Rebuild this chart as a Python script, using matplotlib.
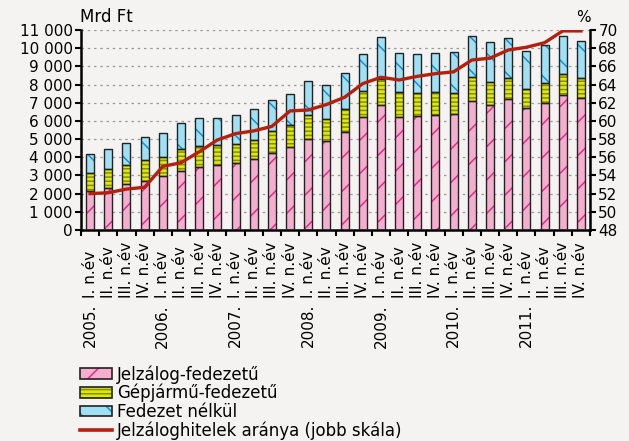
import numpy as np
import matplotlib
matplotlib.use("Agg")
import matplotlib.pyplot as plt
import matplotlib.transforms as mtransforms
from matplotlib.patches import Patch
from matplotlib.lines import Line2D
from matplotlib.legend_handler import HandlerTuple

# negyedéves állományok, Mrd Ft
years = ["2005.", "2006.", "2007.", "2008.", "2009.", "2010.", "2011."]
quarters = ["I. n.év", "II. n.év", "III. n.év", "IV. n.év"]

jelzalog = [2170, 2330, 2530, 2700, 2950, 3230, 3490, 3560, 3690, 3910, 4220, 4590, 4990,
            4910, 5370, 6210, 6870, 6230, 6250, 6310, 6360, 7110, 6860, 7190, 6690, 6970, 7420, 7240]
gepjarmu_top = [3140, 3340, 3600, 3850, 4040, 4440, 4640, 4660, 4750, 4970, 5430, 5760, 6310,
                6120, 6650, 7640, 8280, 7570, 7550, 7570, 7550, 8410, 8120, 8340, 7770, 8070, 8560, 8380]
osszes = [4180, 4480, 4770, 5140, 5360, 5910, 6150, 6170, 6330, 6640, 7160, 7500, 8180,
          7990, 8630, 9680, 10630, 9710, 9680, 9750, 9810, 10690, 10320, 10580, 9860, 10160, 10650, 10390]
# jelzáloghitelek aránya, % (jobb skála)
arany = [52.0, 52.1, 52.5, 52.7, 55.0, 55.4, 56.6, 57.9, 58.6, 58.9, 59.4, 61.1, 61.2,
         61.8, 62.6, 64.1, 64.8, 64.5, 64.9, 65.2, 65.4, 66.7, 66.9, 67.8, 68.1, 68.6, 69.9, 69.9]

gepjarmu = [g - j for g, j in zip(gepjarmu_top, jelzalog)]
fedezetlen = [o - g for o, g in zip(osszes, gepjarmu_top)]

BG = "#f4f3f1"
plt.rcParams["font.family"] = "DejaVu Sans"
plt.rcParams["hatch.linewidth"] = 1.1

fig = plt.figure(figsize=(6.29, 4.41), dpi=100, facecolor=BG)
ax = fig.add_axes([81 / 629, 1 - 230 / 441, 509 / 629, 200 / 441])
ax.set_facecolor(BG)
ax2 = ax.twinx()

x = np.arange(len(jelzalog))
w = 0.44

series = [
    (jelzalog, np.zeros(len(x)), "#f6aecf", "#e42c8a", "/", "Jelzálog-fedezetű"),
    (gepjarmu, np.array(jelzalog), "#e2e800", "#7f9012", "----", "Gépjármű-fedezetű"),
    (fedezetlen, np.array(gepjarmu_top), "#9fe0f4", "#1492cf", "\\", "Fedezet nélkül"),
]

handles = []
labels = []
for vals, bottom, fc, hc, hatch, lab in series:
    ax.bar(x, vals, w, bottom=bottom, color=fc, edgecolor=hc, hatch=hatch, linewidth=0, zorder=2)
    ax.bar(x, vals, w, bottom=bottom, fill=False, edgecolor="#222222", linewidth=1.0, zorder=3)
    handles.append((Patch(facecolor=fc, edgecolor=hc, hatch=hatch, linewidth=0),
                    Patch(fill=False, edgecolor="#222222", linewidth=1.2)))
    labels.append(lab)

ax2.plot(x, arany, color="#b51f0e", linewidth=2.4, solid_joinstyle="round", zorder=4)
handles.append(Line2D([], [], color="#b51f0e", linewidth=2.6))
labels.append("Jelzáloghitelek aránya (jobb skála)")

ax.set_xlim(-0.5, len(x) - 0.5)
ax.set_ylim(0, 11000)
ax2.set_ylim(48, 70)

yt = np.arange(0, 11001, 1000)
ax.set_yticks(yt)
ax.set_yticklabels([f"{v:,}".replace(",", " ") for v in yt], fontsize=11)
ax2.set_yticks(np.arange(48, 71, 2))
ax2.set_yticklabels([str(v) for v in range(48, 71, 2)], fontsize=11)
ax.yaxis.grid(True, linestyle=(0, (2, 3)), color="#999999", linewidth=0.9, zorder=0)
ax.set_axisbelow(True)

ax.set_xticks(np.arange(-0.5, len(x), 1.0))
ax.set_xticklabels([])
ax.tick_params(axis="x", length=4, width=1.5, direction="out")
ax.tick_params(axis="y", length=4, width=1.5, direction="out", pad=2)
ax2.tick_params(axis="y", length=4, width=1.5, direction="out", pad=2)

for a in (ax, ax2):
    a.spines["top"].set_visible(False)
    for s in ("left", "right", "bottom"):
        a.spines[s].set_linewidth(1.8)
ax.spines["right"].set_visible(False)
ax2.spines["left"].set_visible(False)
ax2.spines["bottom"].set_visible(False)

# negyedéves és éves feliratok az x tengely alatt
trans = mtransforms.blended_transform_factory(ax.transData, ax.transAxes)
for i in x:
    ax.text(i, -0.34, quarters[i % 4], rotation=90, ha="center", va="bottom",
            fontsize=11, transform=trans)
for k, yr in enumerate(years):
    ax.text(k * 4, -0.37, yr, rotation=90, ha="center", va="top",
            fontsize=11, transform=trans)

fig.text(80 / 629, 1 - 17 / 441, "Mrd Ft", fontsize=12, va="center", ha="left")
fig.text(583 / 629, 1 - 17 / 441, "%", fontsize=11, va="center", ha="center")

fig.legend(handles, labels, handler_map={tuple: HandlerTuple(ndivide=1, pad=0)},
           loc="upper left", bbox_to_anchor=(80 / 629, 1 - 365 / 441),
           frameon=False, fontsize=12, handlelength=1.9, handleheight=0.6,
           handletextpad=0.3, labelspacing=0.02, borderaxespad=0, borderpad=0)

fig.savefig("out.png", dpi=100, facecolor=BG)
